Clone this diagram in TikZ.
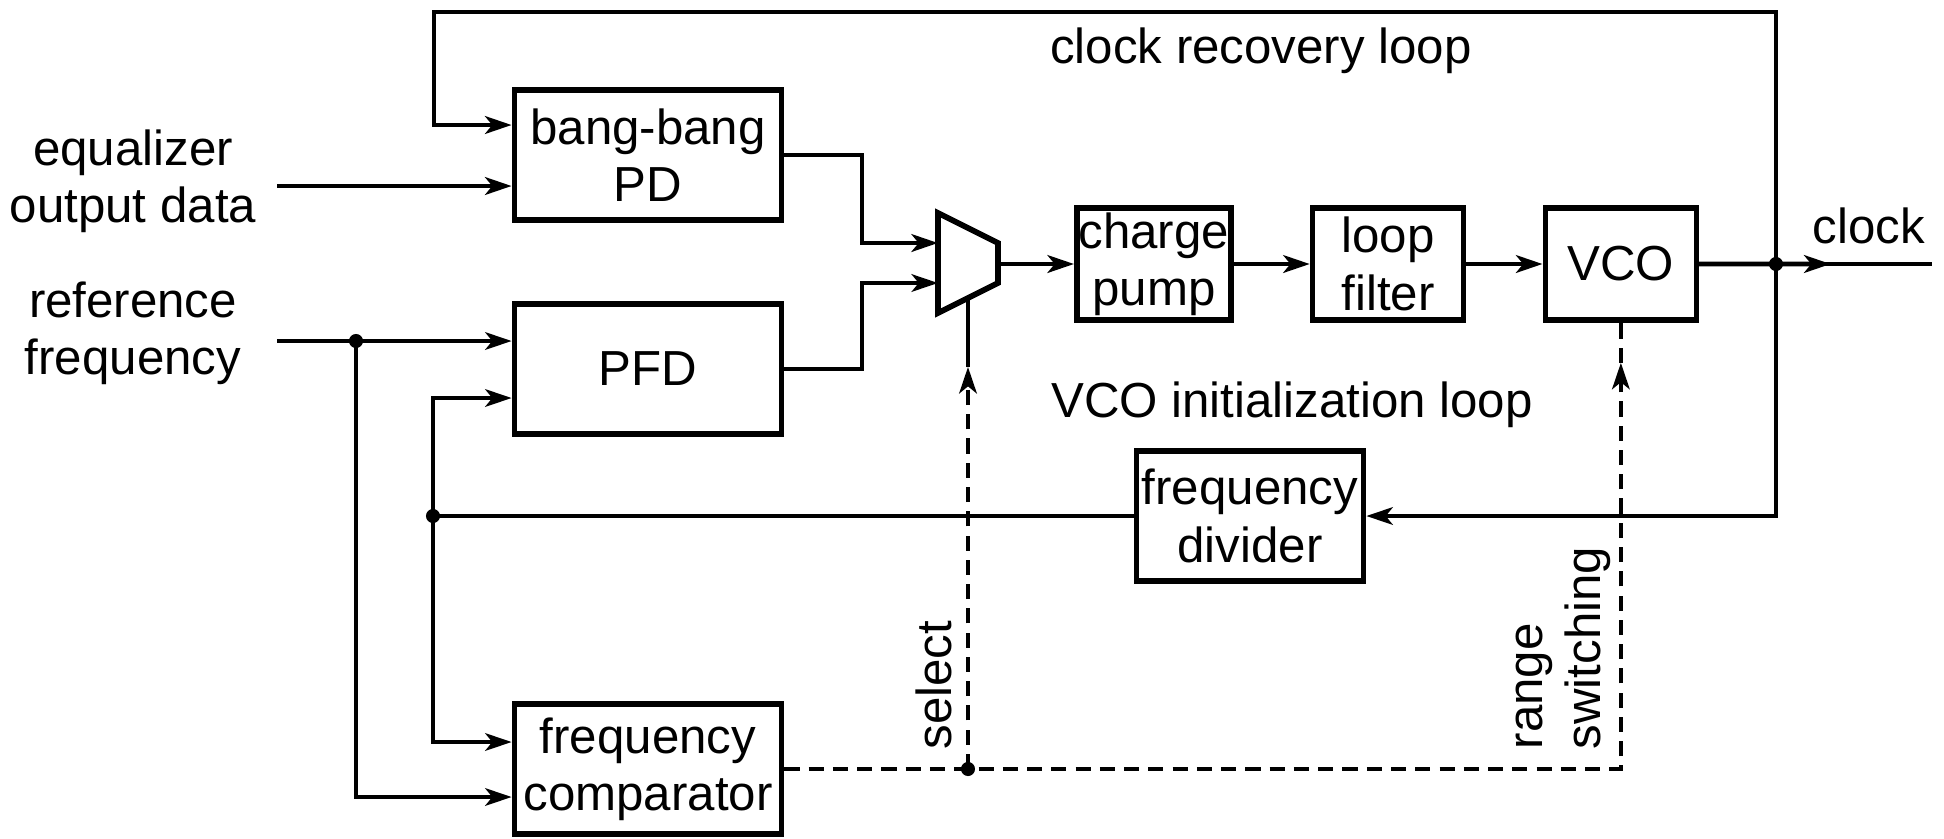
\documentclass[tikz,border=0pt]{standalone}
\usepackage{fontspec}
\setmainfont{Liberation Sans}
\usetikzlibrary{arrows.meta,positioning,calc}

\begin{document}
\begin{tikzpicture}[
  x=0.01cm, y=-0.01cm,
  font=\fontsize{14}{16.3}\selectfont,
  node distance=0.76cm,
  blk/.style={draw, line width=1.6pt, minimum width=2.67cm, minimum height=1.30cm, align=center, inner sep=0.5pt},
  sblk/.style={blk, minimum width=1.51cm, minimum height=1.12cm},
  wire/.style={line width=1.1pt},
  bus/.style={line width=1.4pt},
  arr/.style={-{Stealth[length=7.5pt, width=5pt, inset=2pt]}},
  ctl/.style={wire, dash pattern=on 4.3pt off 2.6pt},
  lbl/.style={inner sep=0pt, align=center},
  dot/.style={circle, fill, inner sep=0pt, minimum size=4pt}
]
  \useasboundingbox (0,0) rectangle (1944,838);

  % blocks
  \node[blk] (bbpd) at (648,155) {bang-bang\\PD};
  \node[blk] (pfd) at (648,369) {PFD};
  \node[blk] (fcmp) at (648,769) {frequency\\comparator};
  \node[blk, minimum width=2.27cm] (div) at (1250,516) {frequency\\divider};

  % mux
  \draw[line width=1.6pt] (938,213) -- (998,243) -- (998,283) -- (938,313) -- cycle;
  \coordinate (muxin1) at (938,243);
  \coordinate (muxin2) at (938,283);
  \coordinate (muxout) at (998,264);
  \coordinate (muxsel) at (968,298);

  \node[sblk, right=of muxout] (cp) {charge\\pump};
  \node[sblk, right=of cp] (lf) {loop\\filter};
  \node[sblk, right=of lf] (vco) {VCO};

  % labels
  \node[lbl] (eqlbl) at (133,181) {equalizer\\output data};
  \node[lbl] (reflbl) at (133,333) {reference\\frequency};
  \node[lbl, anchor=base] (crl) at (1261,63) {clock recovery loop};
  \node[lbl, anchor=base] (vil) at (1292,417) {VCO initialization loop};
  \node[lbl, anchor=base] (clklbl) at (1869,243) {clock};
  \node[lbl, rotate=90, anchor=south west] (sellbl) at (953,750) {select};
  \node[lbl, rotate=90, anchor=south west, align=left] (rnglbl) at (1611,750) {range\\switching};

  % inputs
  \coordinate (eqin) at (277,186);
  \coordinate (refin) at (277,341);
  \coordinate (reffork) at (356,341);
  \draw[bus,arr] (eqin) -- (eqin -| bbpd.west);
  \draw[wire,arr] (refin) -- ($(pfd.west)+(0,-28)$);
  \draw[wire,arr] (reffork) |- ($(fcmp.west)+(0,28)$);

  % clock recovery loop
  \draw[bus,arr] (bbpd.east) -| (862,243) -- (muxin1);
  \draw[wire,arr] (pfd.east) -| (862,283) -- (muxin2);
  \draw[bus,arr] (muxout) -- (cp);
  \draw[bus,arr] (cp) -- (lf);
  \draw[bus,arr] (lf) -- (vco);
  \coordinate (clkfork) at (1776,264);
  \coordinate (clkout) at (1932,264);
  \coordinate (topL) at (434,12);
  \draw[bus] (vco) -- (clkout);
  \draw[bus,arr] (vco) -- ($(clkfork)!0.35!(clkout)$);
  \draw[bus,arr] (clkfork) |- (topL) |- ($(bbpd.west)+(0,-30)$);

  % VCO initialization loop
  \coordinate (divfork) at (433,516);
  \draw[wire,arr] (clkfork) |- (div.east);
  \draw[wire] (div.west) -- (divfork);
  \draw[wire,arr] (divfork) |- ($(pfd.west)+(0,29)$);
  \draw[wire,arr] (divfork) |- ($(fcmp.west)+(0,-27)$);

  % control
  \coordinate (selfork) at (muxsel |- fcmp.east);
  \coordinate (rngturn) at (vco.south |- fcmp.east);
  \coordinate (selarr) at (968,367);
  \coordinate (rngarr) at ($(vco.south)+(0,40)$);
  \draw[ctl,arr] (fcmp.east) -- (rngturn) -- (rngarr);
  \draw[ctl] (rngarr) -- (vco.south);
  \draw[ctl,arr] (selfork) -- (selarr);
  \draw[wire] (selarr) -- (muxsel);

  \node[dot] at (reffork) {};
  \node[dot] at (divfork) {};
  \node[dot] at (clkfork) {};
  \node[dot] at (selfork) {};
\end{tikzpicture}
\end{document}
